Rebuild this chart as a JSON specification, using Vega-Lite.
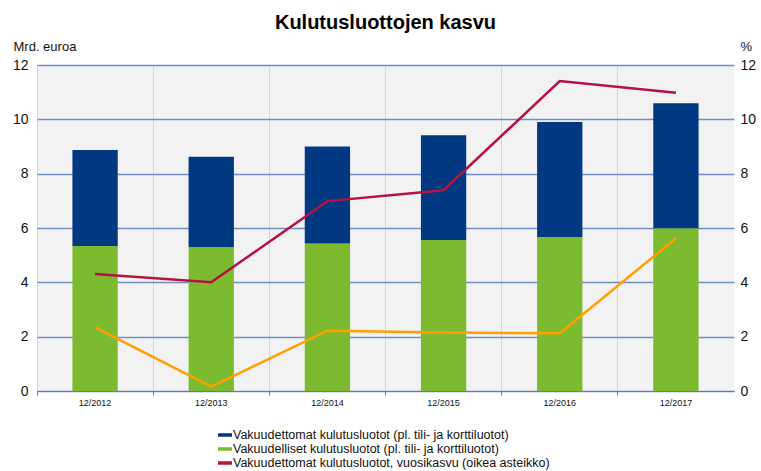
{
  "$schema": "https://vega.github.io/schema/vega-lite/v6.json",
  "width": 697,
  "height": 326,
  "autosize": {"type": "none"},
  "padding": {"left": 37, "top": 65, "right": 27, "bottom": 80},
  "background": "white",
  "config": {
    "view": {"fill": "#f2f2f2", "stroke": null},
    "font": "Liberation Sans"
  },
  "title": {
    "text": "Kulutusluottojen kasvu",
    "fontSize": 20,
    "fontWeight": "bold",
    "anchor": "middle",
    "frame": "group",
    "color": "black",
    "offset": 7
  },
  "datasets": {
    "bars": [
      {"year": "12/2012", "series": "Vakuudelliset kulutusluotot (pl. tili- ja korttiluotot)", "value": 5.34, "order": 1},
      {"year": "12/2012", "series": "Vakuudettomat kulutusluotot (pl. tili- ja korttiluotot)", "value": 3.53, "order": 2},
      {"year": "12/2013", "series": "Vakuudelliset kulutusluotot (pl. tili- ja korttiluotot)", "value": 5.30, "order": 1},
      {"year": "12/2013", "series": "Vakuudettomat kulutusluotot (pl. tili- ja korttiluotot)", "value": 3.32, "order": 2},
      {"year": "12/2014", "series": "Vakuudelliset kulutusluotot (pl. tili- ja korttiluotot)", "value": 5.43, "order": 1},
      {"year": "12/2014", "series": "Vakuudettomat kulutusluotot (pl. tili- ja korttiluotot)", "value": 3.57, "order": 2},
      {"year": "12/2015", "series": "Vakuudelliset kulutusluotot (pl. tili- ja korttiluotot)", "value": 5.56, "order": 1},
      {"year": "12/2015", "series": "Vakuudettomat kulutusluotot (pl. tili- ja korttiluotot)", "value": 3.85, "order": 2},
      {"year": "12/2016", "series": "Vakuudelliset kulutusluotot (pl. tili- ja korttiluotot)", "value": 5.67, "order": 1},
      {"year": "12/2016", "series": "Vakuudettomat kulutusluotot (pl. tili- ja korttiluotot)", "value": 4.23, "order": 2},
      {"year": "12/2017", "series": "Vakuudelliset kulutusluotot (pl. tili- ja korttiluotot)", "value": 5.99, "order": 1},
      {"year": "12/2017", "series": "Vakuudettomat kulutusluotot (pl. tili- ja korttiluotot)", "value": 4.60, "order": 2}
    ],
    "lines": [
      {"year": "12/2012", "series": "Vakuudettomat kulutusluotot, vuosikasvu (oikea asteikko)", "value": 4.31},
      {"year": "12/2013", "series": "Vakuudettomat kulutusluotot, vuosikasvu (oikea asteikko)", "value": 4.0},
      {"year": "12/2014", "series": "Vakuudettomat kulutusluotot, vuosikasvu (oikea asteikko)", "value": 6.99},
      {"year": "12/2015", "series": "Vakuudettomat kulutusluotot, vuosikasvu (oikea asteikko)", "value": 7.39},
      {"year": "12/2016", "series": "Vakuudettomat kulutusluotot, vuosikasvu (oikea asteikko)", "value": 11.41},
      {"year": "12/2017", "series": "Vakuudettomat kulutusluotot, vuosikasvu (oikea asteikko)", "value": 10.98},
      {"year": "12/2012", "series": "Vakuudelliset kulutusluotot, vuosikasvu (oikea asteikko)", "value": 2.34},
      {"year": "12/2013", "series": "Vakuudelliset kulutusluotot, vuosikasvu (oikea asteikko)", "value": 0.16},
      {"year": "12/2014", "series": "Vakuudelliset kulutusluotot, vuosikasvu (oikea asteikko)", "value": 2.22},
      {"year": "12/2015", "series": "Vakuudelliset kulutusluotot, vuosikasvu (oikea asteikko)", "value": 2.15},
      {"year": "12/2016", "series": "Vakuudelliset kulutusluotot, vuosikasvu (oikea asteikko)", "value": 2.13},
      {"year": "12/2017", "series": "Vakuudelliset kulutusluotot, vuosikasvu (oikea asteikko)", "value": 5.62}
    ]
  },
  "encoding": {
    "x": {
      "field": "year",
      "type": "nominal",
      "scale": {"paddingInner": 0, "paddingOuter": 0},
      "axis": {
        "title": null,
        "labelAngle": 0,
        "bandPosition": 0,
        "grid": true,
        "gridColor": "#d6d6d6",
        "gridWidth": 1,
        "domainColor": "#4f81bd",
        "tickColor": "#4f81bd",
        "tickSize": 4,
        "labelFontSize": 9,
        "labelColor": "#111111",
        "labelPadding": 3
      }
    },
    "color": {
      "field": "series",
      "type": "nominal",
      "scale": {
        "domain": [
          "Vakuudettomat kulutusluotot (pl. tili- ja korttiluotot)",
          "Vakuudelliset kulutusluotot (pl. tili- ja korttiluotot)",
          "Vakuudettomat kulutusluotot, vuosikasvu (oikea asteikko)",
          "Vakuudelliset kulutusluotot, vuosikasvu (oikea asteikko)"
        ],
        "range": ["#003882", "#7cbb2f", "#b5123f", "#ffa000"]
      },
      "legend": {
        "title": null,
        "orient": "none",
        "legendX": 181,
        "legendY": 363,
        "direction": "vertical",
        "values": [
          "Vakuudettomat kulutusluotot (pl. tili- ja korttiluotot)",
          "Vakuudelliset kulutusluotot (pl. tili- ja korttiluotot)",
          "Vakuudettomat kulutusluotot, vuosikasvu (oikea asteikko)"
        ],
        "symbolType": "M-1,-0.25H1V0.25H-1Z",
        "symbolSize": 196,
        "symbolStrokeWidth": 0,
        "labelFontSize": 12.5,
        "labelColor": "#111111",
        "labelOffset": 1,
        "rowPadding": -1.5,
        "labelLimit": 500,
        "encode": {
          "symbols": {
            "update": {
              "fill": {"scale": "color", "field": "value"},
              "strokeWidth": {"value": 0},
              "opacity": {"value": 1}
            }
          }
        }
      }
    }
  },
  "layer": [
    {
      "data": {"name": "bars"},
      "mark": {"type": "bar", "width": {"band": 0.39}},
      "encoding": {
        "y": {
          "field": "value",
          "type": "quantitative",
          "stack": "zero",
          "scale": {"domain": [0, 12]},
          "axis": {
            "title": "Mrd. euroa",
            "titleAngle": 0,
            "titleAlign": "left",
            "titleBaseline": "bottom",
            "titleX": -24,
            "titleY": -12,
            "titleFontSize": 13,
            "titleFontWeight": "normal",
            "titleColor": "#111111",
            "values": [0, 2, 4, 6, 8, 10, 12],
            "grid": true,
            "gridColor": "#6f8fc2",
            "gridWidth": 1.3,
            "domain": false,
            "ticks": false,
            "labelFontSize": 14,
            "labelColor": "#111111",
            "labelPadding": 9
          }
        },
        "order": {"field": "order", "type": "quantitative"}
      }
    },
    {
      "data": {"name": "lines"},
      "mark": {"type": "line", "strokeWidth": 2.5},
      "encoding": {
        "y": {
          "field": "value",
          "type": "quantitative",
          "scale": {"domain": [0, 12]},
          "axis": {
            "orient": "right",
            "title": "%",
            "titleAngle": 0,
            "titleAlign": "left",
            "titleBaseline": "bottom",
            "titleX": 6,
            "titleY": -12,
            "titleFontSize": 13,
            "titleFontWeight": "normal",
            "titleColor": "#111111",
            "values": [0, 2, 4, 6, 8, 10, 12],
            "grid": false,
            "domain": false,
            "ticks": false,
            "labelFontSize": 14,
            "labelColor": "#111111",
            "labelPadding": 6
          }
        }
      }
    }
  ],
  "resolve": {"scale": {"y": "independent"}}
}
